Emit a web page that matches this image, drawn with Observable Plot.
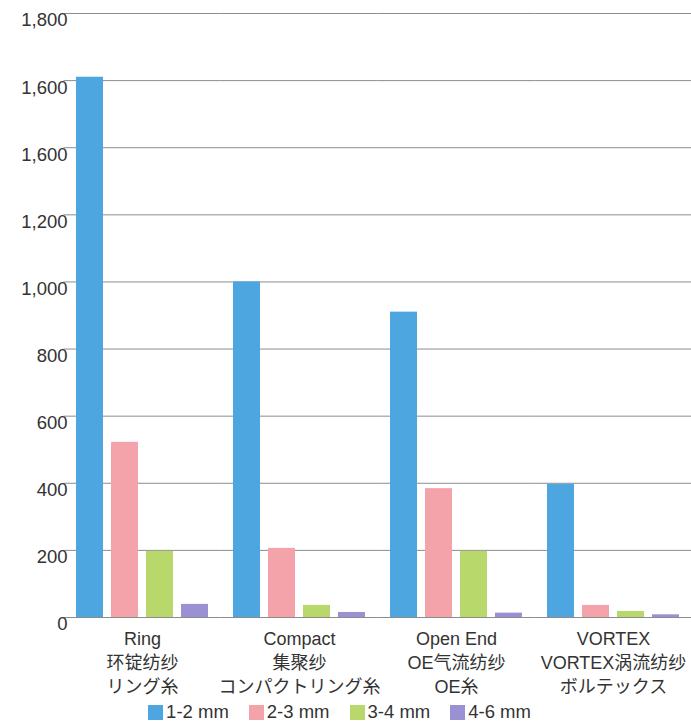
<!DOCTYPE html>
<html>
<head>
<meta charset="utf-8">
<script src="https://cdn.jsdelivr.net/npm/d3@7"></script>
<script src="https://cdn.jsdelivr.net/npm/@observablehq/plot@0.6"></script>
<style>
  body { margin: 0; background: #fff; }
  #chart { width: 691px; font-family: "Liberation Sans", Arial, "Noto Sans CJK JP", sans-serif; color: #333; }
  #chart svg { display: block; }
  .legend { display: flex; justify-content: center; gap: 20px; height: 24px; align-items: center; font-size: 18.5px; color: #333; padding-right: 12px; }
  .legend .item { display: flex; align-items: center; gap: 3px; }
  .legend .swatch { width: 15px; height: 15px; }
</style>
</head>
<body>
<div id="chart"></div>
<script>
// Yarn types (x groups) with their Chinese and Japanese names
const yarnTypes = ["Ring", "Compact", "Open End", "VORTEX"];
const yarnNamesZh = ["环锭纺纱", "集聚纱", "OE气流纺纱", "VORTEX涡流纺纱"];
const yarnNamesJa = ["リング糸", "コンパクトリング糸", "OE糸", "ボルテックス"];

// Hairiness length classes (series)
const lengthClasses = ["1-2 mm", "2-3 mm", "3-4 mm", "4-6 mm"];
const classColors = ["#4ea6e0", "#f4a3ab", "#b9d86c", "#9a90d4"];

// Values per yarn type, in the order of lengthClasses
const ringValues = [1610, 522, 197, 39];
const compactValues = [1000, 206, 36, 15];
const openEndValues = [910, 384, 197, 13];
const vortexValues = [397, 36, 18, 8];

// Y axis ticks and their printed labels
const yTicks = [0, 200, 400, 600, 800, 1000, 1200, 1400, 1600, 1800];
const yTickLabels = ["0", "200", "400", "600", "800", "1,000", "1,200", "1,600", "1,600", "1,800"];

const seriesByYarn = [ringValues, compactValues, openEndValues, vortexValues];
const data = yarnTypes.flatMap((yarn, i) =>
  lengthClasses.map((cls, j) => ({yarn, cls, value: seriesByYarn[i][j]}))
);

// Layout
const width = 691, marginLeft = 63, marginRight = 0;
const groupPaddingInner = 0.16, groupPaddingOuter = 0.08;
// Extend each facet's grid rules across half the gap to its neighbours so they read as continuous lines
const groupStep = (width - marginLeft - marginRight) /
  (yarnTypes.length - groupPaddingInner + 2 * groupPaddingOuter);
const gridExtend = -groupStep * groupPaddingInner / 2;

const chart = Plot.plot({
  width,
  height: 700,
  marginTop: 13,
  marginBottom: 83,
  marginLeft,
  marginRight,
  style: {
    fontFamily: "'Liberation Sans', Arial, 'Noto Sans CJK JP', sans-serif",
    fontSize: "17.5px",
    color: "#333",
    background: "#fff"
  },
  fx: {domain: yarnTypes, paddingInner: groupPaddingInner, paddingOuter: groupPaddingOuter},
  x: {domain: lengthClasses, paddingInner: 0.229, paddingOuter: 0, axis: null},
  y: {domain: [0, 1800]},
  color: {domain: lengthClasses, range: classColors},
  marks: [
    Plot.ruleY(yTicks, {stroke: "#8c8c8c", strokeWidth: 1, insetLeft: gridExtend, insetRight: gridExtend}),
    Plot.barY(data, {fx: "yarn", x: "cls", y: "value", fill: "cls"}),
    Plot.axisY({
      ticks: yTicks,
      tickSize: 0,
      tickPadding: 9,
      dy: 7,
      fontSize: 18.5,
      tickFormat: d => yTickLabels[yTicks.indexOf(d)],
      label: null
    }),
    Plot.axisFx({
      anchor: "bottom",
      tickSize: 0,
      tickPadding: 11,
      fontSize: 18,
      lineHeight: 1.33,
      label: null,
      tickFormat: d => {
        const i = yarnTypes.indexOf(d);
        return [d, yarnNamesZh[i], yarnNamesJa[i]].join("\n");
      }
    })
  ]
});

const root = document.getElementById("chart");
root.appendChild(chart);

// Legend built from the chart's color scale
const color = chart.scale("color");
const legend = document.createElement("div");
legend.className = "legend";
color.domain.forEach((cls, i) => {
  const item = document.createElement("div");
  item.className = "item";
  const sw = document.createElement("span");
  sw.className = "swatch";
  sw.style.background = color.range[i];
  const label = document.createElement("span");
  label.textContent = cls;
  item.append(sw, label);
  legend.appendChild(item);
});
root.appendChild(legend);
</script>
</body>
</html>
